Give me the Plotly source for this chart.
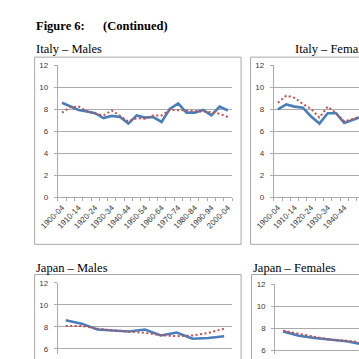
import plotly.graph_objects as go

W = H = 359

# ---------------- data ----------------
italy_periods = ["1900-04", "1905-09", "1910-14", "1915-19", "1920-24", "1925-29", "1930-34",
                 "1935-39", "1940-44", "1945-49", "1950-54", "1955-59", "1960-64", "1965-69",
                 "1970-74", "1975-79", "1980-84", "1985-89", "1990-94", "1995-99", "2000-04"]
italy_m_actual = [8.6, 8.3, 7.95, 7.8, 7.65, 7.2, 7.4, 7.3, 6.7, 7.45, 7.25,
                  7.3, 6.85, 8.05, 8.55, 7.7, 7.7, 7.95, 7.45, 8.25, 7.9]
italy_m_fitted = [7.7, 8.2, 8.25, 7.85, 7.6, 7.45, 7.9, 7.4, 6.9, 7.2, 7.15,
                  7.45, 7.45, 7.95, 7.95, 7.9, 7.85, 7.8, 7.75, 7.6, 7.3]
italy_f_actual = [8.0, 8.45, 8.25, 8.15, 7.35, 6.7, 7.65, 7.65, 6.75, 7.05, 7.3,
                  7.4, 7.2, 7.0, 7.6, 8.0, 7.4, 7.5, 7.7, 7.3, 7.8]
italy_f_fitted = [8.6, 9.25, 9.05, 8.5, 8.05, 7.25, 8.25, 7.65, 6.9, 7.15, 7.35,
                  7.4, 7.4, 7.3, 7.6, 7.8, 7.7, 7.6, 7.6, 7.5, 7.3]

japan_periods = ["1950-54", "1955-59", "1960-64", "1965-69", "1970-74", "1975-79",
                 "1980-84", "1985-89", "1990-94", "1995-99", "2000-04"]
japan_m_actual = [8.6, 8.3, 7.76, 7.67, 7.58, 7.76, 7.22, 7.49, 6.93, 6.99, 7.16]
japan_m_fitted = [8.09, 8.09, 7.85, 7.67, 7.58, 7.46, 7.25, 7.16, 7.22, 7.46, 7.85]
japan_f_actual = [7.73, 7.34, 7.13, 6.99, 6.84, 6.55, 6.4, 6.3, 6.2, 6.1, 6.0]
japan_f_fitted = [7.79, 7.5, 7.19, 6.96, 6.87, 6.62, 6.45, 6.35, 6.25, 6.15, 6.05]

italy_labels = italy_periods[::2]

# ---------------- styling ----------------
BLUE = "#4a7ebb"
RED = "#c0504d"
GRID = "#ababab"
BOX = "#a8a8a8"
TICKFONT = dict(family="Liberation Sans, Arial", size=8, color="#3a3a3a")
XTICKFONT = dict(family="Liberation Sans, Arial", size=8, color="#3a3a3a")
SERIF = "Liberation Serif, Times New Roman, serif"


def px(x):
    return x / W


def py(y):
    return 1 - y / H


fig = go.Figure()


def add_pair(n, actual, fitted, xa, ya):
    xs = list(range(n))
    fig.add_trace(go.Scatter(x=xs, y=actual, mode="lines", xaxis=xa, yaxis=ya,
                             line=dict(color=BLUE, width=2.6), showlegend=False))
    fig.add_trace(go.Scatter(x=xs, y=fitted, mode="lines", xaxis=xa, yaxis=ya,
                             line=dict(color=RED, width=2, dash="2px,2.5px"), showlegend=False))


add_pair(len(italy_periods), italy_m_actual, italy_m_fitted, "x", "y")
add_pair(len(italy_periods), italy_f_actual, italy_f_fitted, "x2", "y2")
add_pair(len(japan_periods), japan_m_actual, japan_m_fitted, "x3", "y3")
add_pair(len(japan_periods), japan_f_actual, japan_f_fitted, "x4", "y4")

n_it = len(italy_periods)
n_jp = len(japan_periods)
it_step = 184 / n_it
jp_step = 184 / n_jp
boundaries = [i - 0.5 for i in range(n_it + 1)]

italy_x = dict(
    tickmode="array", tickvals=list(range(0, n_it, 2)), ticktext=italy_labels,
    tickangle=-45, ticks="", tickfont=XTICKFONT, showgrid=False, zeroline=False,
    showline=True, linecolor=GRID, linewidth=1, ticklabelstandoff=2,
    minor=dict(tickmode="array", tickvals=boundaries, ticks="outside", ticklen=3,
               tickcolor=GRID, showgrid=False),
)
italy_y = dict(range=[0, 12.01], tickmode="array", tickvals=[0, 2, 4, 6, 8, 10, 12],
               ticks="outside", ticklen=3, tickcolor=GRID, tickfont=TICKFONT,
               ticklabelstandoff=4,
               showgrid=True, gridcolor=GRID, gridwidth=1, zeroline=False,
               showline=True, linecolor=GRID, linewidth=1,
               domain=[py(198), py(63)])

japan_x = dict(showticklabels=False, ticks="", showgrid=False, zeroline=False, showline=False)


def japan_y(top):
    lo = 12 - (H - top) / 11.3
    return dict(range=[lo, 12.01], tickmode="array", tickvals=[6, 8, 10, 12],
                ticks="outside", ticklen=3, tickcolor=GRID, tickfont=TICKFONT,
                ticklabelstandoff=4,
                showgrid=True, gridcolor=GRID, gridwidth=1, zeroline=False,
                showline=True, linecolor=GRID, linewidth=1,
                domain=[0, py(top)])


fig.update_layout(
    width=W, height=H, margin=dict(l=0, r=0, t=0, b=0),
    paper_bgcolor="white", plot_bgcolor="white", showlegend=False,
    xaxis=dict(italy_x, domain=[px(41), px(225)], range=[-0.5, n_it - 0.5], anchor="y"),
    yaxis=dict(italy_y, anchor="x"),
    xaxis2=dict(italy_x, domain=[px(269), 1], range=[-0.5, -0.5 + (W - 269) / it_step], anchor="y2"),
    yaxis2=dict(italy_y, anchor="x2"),
    xaxis3=dict(japan_x, domain=[px(41), px(225)], range=[-0.5, n_jp - 0.5], anchor="y3"),
    yaxis3=dict(japan_y(286), anchor="x3"),
    xaxis4=dict(japan_x, domain=[px(270.5), 1], range=[-0.5, -0.5 + (W - 270.5) / jp_step], anchor="y4"),
    yaxis4=dict(japan_y(287.5), anchor="x4"),
)

# panel frames
frames = [(16.5, 234.5, 54.5, 246.5), (244.5, 480, 54.5, 246.5),
          (16.5, 234.5, 277.5, 480), (245.5, 480, 277.5, 480)]
for x0, x1, y0, y1 in frames:
    fig.add_shape(type="rect", xref="paper", yref="paper",
                  x0=px(x0), x1=px(x1), y0=py(y0), y1=py(y1),
                  line=dict(color=BOX, width=1), fillcolor="rgba(0,0,0,0)", layer="below")

# texts
texts = [
    ("<b>Figure 6:</b>", 16, 23),
    ("<b>(Continued)</b>", 87, 23),
    ("Italy – Males", 16, 46),
    ("Italy – Females", 289, 46),
    ("Japan – Males", 16, 271),
    ("Japan – Females", 245, 271),
]
for t, x, y in texts:
    fig.add_annotation(text=t, xref="paper", yref="paper", x=px(x), y=py(y),
                       xanchor="left", yanchor="middle", showarrow=False,
                       font=dict(family=SERIF, size=12.5, color="black"))

fig.write_html("out.html")
